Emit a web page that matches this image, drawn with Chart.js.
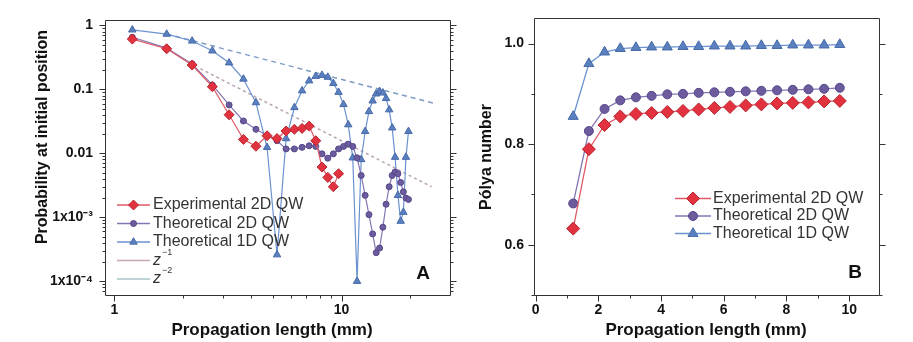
<!DOCTYPE html>
<html><head><meta charset="utf-8">
<script src="https://cdn.jsdelivr.net/npm/chart.js@4.4.0/dist/chart.umd.min.js"></script>
<style>
html,body{margin:0;padding:0;background:#fff;width:913px;height:342px;overflow:hidden;}
#wrapA{position:absolute;left:0;top:0;width:460px;height:342px;}
#wrapB{position:absolute;left:460px;top:0;width:453px;height:342px;}
</style></head><body>
<div id="wrapA"><canvas id="cA" width="460" height="342"></canvas></div>
<div id="wrapB"><canvas id="cB" width="453" height="342"></canvas></div>
<script>
// ---------- data ----------
const seriesNames = ['Experimental 2D QW', 'Theoretical 2D QW', 'Theoretical 1D QW'];
const guideNames = ['z', 'z'];
const guideExps = ['\u22121', '\u22122'];

const lengthShort = [1.2,1.7,2.2,2.7,3.2,3.7,4.2,4.7,5.2,5.7,6.2,6.7,7.2,7.7,8.2,8.7,9.2,9.7];
const lengthLong = [1.2,1.7,2.2,2.7,3.2,3.7,4.2,4.7,5.2,5.7,6.2,6.7,7.2,7.7,8.2,8.7,9.2,9.7,
  10.2,10.7,11.2,11.7,12.2,12.7,13.2,13.7,14.2,14.7,15.2,15.7,16.2,16.7,17.2,17.7,18.2,18.7,19.2,19.7];

const probExp2D = [0.61,0.43,0.24,0.11,0.040,0.0165,0.0129,0.0188,0.017,0.0223,0.0237,0.0245,0.0266,0.0157,0.0061,0.0042,0.0030,0.0048];
const probTheo2D = [0.65,0.44,0.25,0.117,0.057,0.032,0.0237,0.019,0.0157,0.0117,0.0117,0.0124,0.0131,0.0128,0.0098,0.0084,0.0098,0.0117,
  0.0128,0.0139,0.0128,0.0085,0.0045,0.0022,0.0011,0.00055,0.00028,0.00033,0.0007,0.0016,0.003,0.0045,0.0051,0.0048,0.0035,0.0025,0.0020,0.0019];
const probTheo1D = [0.85,0.73,0.57,0.40,0.26,0.145,0.062,0.0124,0.00026,0.0170,0.052,0.095,0.136,0.160,0.166,0.155,0.124,0.090,
  0.058,0.028,0.0085,0.0001,0.008,0.022,0.045,0.066,0.085,0.093,0.088,0.072,0.048,0.025,0.0087,0.0022,0.00087,0.0012,0.0087,0.022];

const guideZ1x = [1.7, 25.3], guideZ1y = [0.73, 0.061];
const guideZ2x = [2.39, 24.9], guideZ2y = [0.21, 0.003];

const polyaExp2D = [0.632,0.790,0.838,0.855,0.860,0.862,0.864,0.866,0.869,0.872,0.874,0.877,0.879,0.881,0.882,0.883,0.885,0.886];
const polyaTheo2D = [0.682,0.826,0.870,0.887,0.893,0.896,0.899,0.900,0.902,0.903,0.904,0.905,0.906,0.907,0.908,0.909,0.910,0.912];
const polyaTheo1D = [0.855,0.960,0.983,0.990,0.992,0.993,0.993,0.994,0.994,0.995,0.995,0.995,0.996,0.996,0.997,0.997,0.997,0.998];

// tick labels
const aXMajor = [1, 10], aXLabels = ['1', '10'];
const aYMajor = [1, 0.1, 0.01, 0.001, 0.0001], aYLabels = ['1', '0.1', '0.01', '1x10\u207B\u00B3', '1x10\u207B\u2074'];
const bXTicks = [0,1,2,3,4,5,6,7,8,9,10], bXLabels = ['0','','2','','4','','6','','8','','10'];
const bYTicks = [0.5,0.6,0.7,0.8,0.9,1.0], bYLabels = ['','0.6','','0.8','','1.0'];

// ---------- style ----------
const FAM = '"Liberation Sans", Arial, Helvetica, sans-serif';
Chart.defaults.font.family = FAM;
const C = {
  exp: {fill:'#e2323f', border:'#b8262f', line:'#de5a66'},
  t2:  {fill:'#6c5c9e', border:'#55468a', line:'#8575b3'},
  t1:  {fill:'#5a80bf', border:'#4669a8', line:'#6a92d0'},
};

function pts(xs, ys){ return ys.map((y,i)=>({x:xs[i], y:y})); }
function logTicks(min, max, skip){
  const out = [];
  for (let e=-6; e<=3; e++) for (let m=1; m<=9; m++){
    const v = m*Math.pow(10,e);
    if (v>=min*1.0001 && v<=max/1.0001 && !(skip && skip(v))) out.push(v);
  }
  return out;
}
function isPow10(v){ const l=Math.log10(v); return Math.abs(l-Math.round(l))<1e-6; }
function lookup(v, arr, labels){
  for (let i=0;i<arr.length;i++) if (Math.abs(v-arr[i]) <= 1e-9 + Math.abs(arr[i])*1e-6) return labels[i];
  return '';
}

function drawMarker(ctx, style, r, x, y, c){
  ctx.fillStyle = c.fill; ctx.strokeStyle = c.border; ctx.lineWidth = 1;
  if (Chart.helpers && Chart.helpers.drawPoint){
    Chart.helpers.drawPoint(ctx, {pointStyle:style, radius:r, rotation:0, borderWidth:1}, x, y);
    return;
  }
  ctx.beginPath();
  if (style==='circle') ctx.arc(x,y,r,0,Math.PI*2);
  else if (style==='rectRot'){ ctx.moveTo(x-r,y); ctx.lineTo(x,y-r); ctx.lineTo(x+r,y); ctx.lineTo(x,y+r); ctx.closePath(); }
  else { ctx.moveTo(x,y-r); ctx.lineTo(x+r*0.866,y+r/2); ctx.lineTo(x-r*0.866,y+r/2); ctx.closePath(); }
  ctx.fill(); ctx.stroke();
}

const decor = {
  id: 'decor',
  afterDatasetsDraw(chart, args, o){
    const ctx = chart.ctx, a = chart.chartArea, xs = chart.scales.x, ys = chart.scales.y;
    ctx.save();
    ctx.strokeStyle = '#333'; ctx.lineWidth = 1;
    const L = Math.round(a.left)+0.5, R = Math.round(a.right)+0.5, T = Math.round(a.top)+0.5, B = Math.round(a.bottom)+0.5;
    ctx.beginPath(); ctx.rect(L, T, R-L, B-T); ctx.stroke();
    ctx.beginPath();
    xs.ticks.forEach(t=>{
      const px = Math.round(xs.getPixelForValue(t.value))+0.5;
      const len = o.xMajor(t.value) ? 6 : 3;
      ctx.moveTo(px, B); ctx.lineTo(px, B+len);
    });
    ys.ticks.forEach(t=>{
      const py = Math.round(ys.getPixelForValue(t.value))+0.5;
      const len = o.yMajor(t.value) ? 6 : 3;
      ctx.moveTo(L, py); ctx.lineTo(L-len, py);
      ctx.moveTo(R, py); ctx.lineTo(R+len, py);
    });
    ctx.stroke();
    ctx.restore();
  },
  afterDraw(chart, args, o){
    const ctx = chart.ctx;
    ctx.save();
    // legend
    const lg = o.legend;
    lg.items.forEach((it, i)=>{
      const y = lg.y + i*lg.dy;
      ctx.strokeStyle = it.line; ctx.lineWidth = 1.3; ctx.setLineDash([]);
      ctx.beginPath(); ctx.moveTo(lg.x1, y); ctx.lineTo(lg.x2, y); ctx.stroke();
      if (it.style) drawMarker(ctx, it.style, it.r, (lg.x1+lg.x2)/2, y, it.c);
      ctx.fillStyle = '#333'; ctx.textBaseline = 'middle'; ctx.textAlign = 'left';
      if (it.sup){
        ctx.font = 'italic 16px ' + FAM;
        ctx.fillText(it.text, lg.tx, y);
        const w = ctx.measureText(it.text).width;
        ctx.font = '9px ' + FAM;
        ctx.fillText(it.sup, lg.tx + w + 1, y - 8);
      } else {
        ctx.font = '16px ' + FAM;
        ctx.fillText(it.text, lg.tx, y);
      }
    });
    // titles
    ctx.fillStyle = '#111';
    ctx.textAlign = 'center'; ctx.textBaseline = 'middle';
    ctx.font = 'bold 17px ' + FAM;
    ctx.fillText(o.xTitle.text, o.xTitle.x, o.xTitle.y);
    ctx.save();
    ctx.translate(o.yTitle.x, o.yTitle.y); ctx.rotate(-Math.PI/2);
    ctx.font = 'bold 16px ' + FAM;
    ctx.fillText(o.yTitle.text, 0, 0);
    ctx.restore();
    ctx.font = 'bold 19px ' + FAM;
    ctx.fillText(o.letter.text, o.letter.x, o.letter.y);
    ctx.restore();
  }
};

// ---------- panel A ----------
const aXMin = 0.91, aXMax = 30, aYMin = 6.1e-5, aYMax = 1.194;
const tickFont = {family: FAM, size: 14, weight: 'bold'};

new Chart(document.getElementById('cA'), {
  type: 'line',
  data: {
    datasets: [
      {data: pts(guideZ1x, guideZ1y), borderColor:'#7d9bc2', borderWidth:1.5, borderDash:[5,4], pointRadius:0, order:5},
      {data: pts(guideZ2x, guideZ2y), borderColor:'#b8a2b2', borderWidth:1.5, borderDash:[3,3], pointRadius:0, order:5},
      {label: seriesNames[2], data: pts(lengthLong, probTheo1D), borderColor:C.t1.line, borderWidth:1.2,
        pointStyle:'triangle', pointRadius:4.3, pointBackgroundColor:C.t1.fill, pointBorderColor:C.t1.border, pointBorderWidth:1, order:3},
      {label: seriesNames[1], data: pts(lengthLong, probTheo2D), borderColor:C.t2.line, borderWidth:1.2,
        pointStyle:'circle', pointRadius:3, pointBackgroundColor:C.t2.fill, pointBorderColor:C.t2.border, pointBorderWidth:1, order:2},
      {label: seriesNames[0], data: pts(lengthShort, probExp2D), borderColor:C.exp.line, borderWidth:1.2,
        pointStyle:'rectRot', pointRadius:5, pointBackgroundColor:C.exp.fill, pointBorderColor:C.exp.border, pointBorderWidth:1, order:1},
    ]
  },
  options: {
    responsive:false, animation:false, devicePixelRatio:1,
    layout:{padding:{left:0, right:10, top:16, bottom:0}},
    plugins:{
      legend:{display:false}, tooltip:{enabled:false},
      decor:{
        xMajor: v=>isPow10(v), yMajor: v=>isPow10(v),
        legend:{x1:117, x2:150, tx:153, y:205, dy:18.5, items:[
          {text:seriesNames[0], line:C.exp.line, style:'rectRot', r:5, c:C.exp},
          {text:seriesNames[1], line:C.t2.line, style:'circle', r:3, c:C.t2},
          {text:seriesNames[2], line:C.t1.line, style:'triangle', r:4.3, c:C.t1},
          {text:guideNames[0], sup:guideExps[0], line:'#c6a8ac'},
          {text:guideNames[1], sup:guideExps[1], line:'#a9c6c8'},
        ]},
        xTitle:{text:'Propagation length (mm)', x:272, y:330},
        yTitle:{text:'Probability at initial position', x:43, y:137},
        letter:{text:'A', x:423, y:274},
      }
    },
    scales:{
      x:{type:'logarithmic', min:aXMin, max:aXMax,
        afterFit: s=>{ s.height = 47; },
        afterBuildTicks: s=>{ s.ticks = logTicks(aXMin, aXMax, v=>v>=29).map(v=>({value:v, major:isPow10(v)})); },
        grid:{display:false, drawTicks:false}, border:{display:false},
        ticks:{autoSkip:false, maxRotation:0, minRotation:0, padding:7, color:'#111', font:tickFont,
          callback:(v)=>lookup(v, aXMajor, aXLabels)}},
      y:{type:'logarithmic', min:aYMin, max:aYMax,
        afterFit: s=>{ s.width = 105; },
        afterBuildTicks: s=>{ s.ticks = logTicks(aYMin, aYMax).map(v=>({value:v, major:isPow10(v)})); },
        grid:{display:false, drawTicks:false}, border:{display:false},
        ticks:{autoSkip:false, padding:12, color:'#111', font:tickFont,
          callback:(v)=>lookup(v, aYMajor, aYLabels)}},
    }
  },
  plugins:[decor]
});

// ---------- panel B ----------
new Chart(document.getElementById('cB'), {
  type: 'line',
  data: {
    datasets: [
      {label: seriesNames[2], data: pts(lengthShort, polyaTheo1D), borderColor:C.t1.line, borderWidth:1.3,
        pointStyle:'triangle', pointRadius:5.8, pointBackgroundColor:C.t1.fill, pointBorderColor:C.t1.border, pointBorderWidth:1, order:3},
      {label: seriesNames[1], data: pts(lengthShort, polyaTheo2D), borderColor:C.t2.line, borderWidth:1.3,
        pointStyle:'circle', pointRadius:4.5, pointBackgroundColor:C.t2.fill, pointBorderColor:C.t2.border, pointBorderWidth:1, order:2},
      {label: seriesNames[0], data: pts(lengthShort, polyaExp2D), borderColor:C.exp.line, borderWidth:1.3,
        pointStyle:'rectRot', pointRadius:6.5, pointBackgroundColor:C.exp.fill, pointBorderColor:C.exp.border, pointBorderWidth:1, order:1},
    ]
  },
  options: {
    responsive:false, animation:false, devicePixelRatio:1,
    layout:{padding:{left:0, right:34, top:16, bottom:0}},
    plugins:{
      legend:{display:false}, tooltip:{enabled:false},
      decor:{
        xMajor: v=>Math.round(v)%2===0, yMajor: v=>Math.round(v*10)%2===0,
        legend:{x1:215, x2:251, tx:253, y:198.5, dy:17.5, items:[
          {text:seriesNames[0], line:C.exp.line, style:'rectRot', r:6.5, c:C.exp},
          {text:seriesNames[1], line:C.t2.line, style:'circle', r:4.5, c:C.t2},
          {text:seriesNames[2], line:C.t1.line, style:'triangle', r:5.8, c:C.t1},
        ]},
        xTitle:{text:'Propagation length (mm)', x:246, y:330},
        yTitle:{text:'P\u00F3lya number', x:27, y:157},
        letter:{text:'B', x:395, y:273},
      }
    },
    scales:{
      x:{type:'linear', min:-0.05, max:10.95,
        afterFit: s=>{ s.height = 47; },
        afterBuildTicks: s=>{ s.ticks = bXTicks.map(v=>({value:v})); },
        grid:{display:false, drawTicks:false}, border:{display:false},
        ticks:{autoSkip:false, maxRotation:0, minRotation:0, padding:7, color:'#111', font:tickFont,
          callback:(v)=>lookup(v, bXTicks, bXLabels)}},
      y:{type:'linear', min:0.5, max:1.05,
        afterFit: s=>{ s.width = 74; },
        afterBuildTicks: s=>{ s.ticks = bYTicks.map(v=>({value:v})); },
        grid:{display:false, drawTicks:false}, border:{display:false},
        ticks:{autoSkip:false, padding:10, color:'#111', font:tickFont,
          callback:(v)=>lookup(v, bYTicks, bYLabels)}},
    }
  },
  plugins:[decor]
});
</script>
</body></html>
